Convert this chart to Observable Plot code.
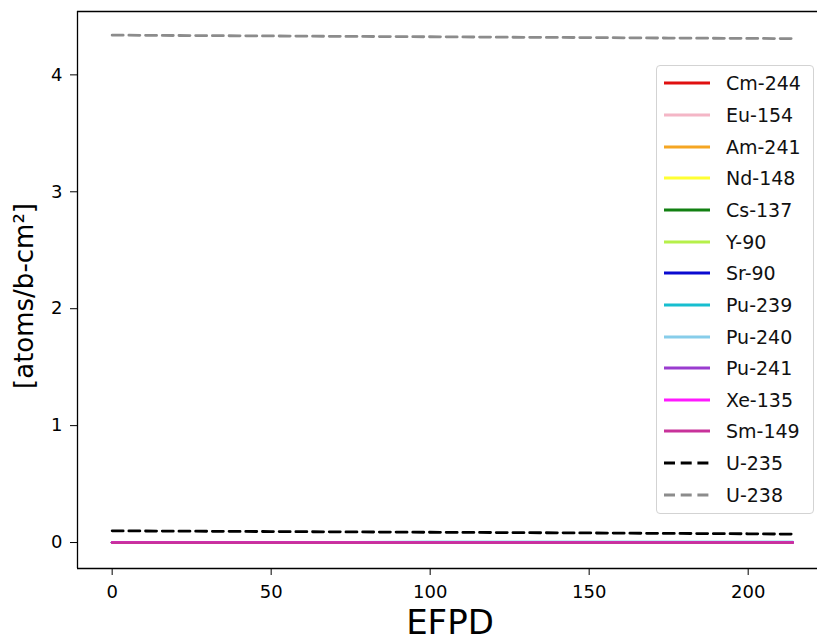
<!DOCTYPE html>
<html><head><meta charset="utf-8">
<script src="https://cdn.jsdelivr.net/npm/d3@7"></script>
<script src="https://cdn.jsdelivr.net/npm/@observablehq/plot@0.6"></script>
<style>
body{margin:0;background:#fff;}
#chart{position:relative;width:817px;height:644px;font-family:"DejaVu Sans",sans-serif;overflow:hidden;}
#legend{position:absolute;left:656px;top:65px;width:158px;height:449px;box-sizing:border-box;border:1px solid #d3d3d3;border-radius:4px;background:rgba(255,255,255,0.85);}
.row{position:absolute;left:0;height:30px;width:100%;}
.row svg{position:absolute;left:6px;top:0;}
.row span{position:absolute;left:69px;top:50%;transform:translateY(-50%);font-size:19px;color:#111;white-space:nowrap;line-height:1;}
</style></head><body><div id="chart"></div>
<script>
// EFPD sample points (days)
const efpd = [0, 25, 50, 75, 100, 125, 150, 175, 200, 214];
const xTicks = [0, 50, 100, 150, 200];
const yTicks = [0, 1, 2, 3, 4];

const isotopes = ["Cm-244","Eu-154","Am-241","Nd-148","Cs-137","Y-90","Sr-90","Pu-239","Pu-240","Pu-241","Xe-135","Sm-149","U-235","U-238"];
const colors = ["#e01010","#f4b6c6","#f5a623","#ffff33","#128012","#b6f04a","#0a0ad0","#17becf","#87cdea","#9a3ccf","#ff1aff","#c8329a","#000000","#8c8c8c"];
const dashed = [false,false,false,false,false,false,false,false,false,false,false,false,true,true];

// values in atoms/b-cm^2 (fission products & actinides stay near 0)
const cm244 = [0, 0, 0, 0.00001, 0.00001, 0.00001, 0.00002, 0.00002, 0.00003, 0.00003];
const eu154 = [0, 0.00001, 0.00002, 0.00003, 0.00004, 0.00005, 0.00006, 0.00007, 0.00008, 0.00009];
const am241 = [0, 0, 0.00001, 0.00001, 0.00002, 0.00002, 0.00003, 0.00003, 0.00004, 0.00004];
const nd148 = [0, 0.00005, 0.0001, 0.00015, 0.0002, 0.00025, 0.0003, 0.00035, 0.0004, 0.00043];
const cs137 = [0, 0.0002, 0.0004, 0.0006, 0.0008, 0.001, 0.0012, 0.0014, 0.0016, 0.0017];
const y90   = [0, 0.00001, 0.00001, 0.00001, 0.00001, 0.00001, 0.00001, 0.00001, 0.00001, 0.00001];
const sr90  = [0, 0.0002, 0.0004, 0.0006, 0.0008, 0.001, 0.0012, 0.0014, 0.0016, 0.0017];
const pu239 = [0, 0.0008, 0.0015, 0.0021, 0.0026, 0.003, 0.0034, 0.0037, 0.004, 0.0041];
const pu240 = [0, 0.00005, 0.00015, 0.0003, 0.00045, 0.0006, 0.00075, 0.0009, 0.001, 0.0011];
const pu241 = [0, 0.00001, 0.00003, 0.00006, 0.0001, 0.00014, 0.00018, 0.00022, 0.00026, 0.00028];
const xe135 = [0, 0.00001, 0.00001, 0.00001, 0.00001, 0.00001, 0.00001, 0.00001, 0.00001, 0.00001];
const sm149 = [0, 0.00002, 0.00003, 0.00003, 0.00003, 0.00003, 0.00003, 0.00003, 0.00003, 0.00003];
const u235  = [0.100, 0.097, 0.094, 0.091, 0.088, 0.085, 0.082, 0.078, 0.075, 0.072];
const u238  = [4.340, 4.336, 4.333, 4.329, 4.326, 4.322, 4.319, 4.315, 4.312, 4.310];

const series = [cm244, eu154, am241, nd148, cs137, y90, sr90, pu239, pu240, pu241, xe135, sm149, u235, u238];

const xDomain = [-10.9, 221.8];
const yDomain = [-0.222, 4.542];

const lineMarks = series.map((vals, i) =>
  Plot.line(efpd.map((d, j) => ({x: d, y: vals[j]})), {
    x: "x", y: "y", stroke: colors[i], strokeWidth: 2.8,
    strokeDasharray: dashed[i] ? "11,5.7" : null
  })
);

const plot = Plot.plot({
  width: 817, height: 644,
  marginLeft: 77, marginRight: 0, marginTop: 11, marginBottom: 76,
  x: {domain: xDomain, label: null},
  y: {domain: yDomain, label: null},
  style: {fontFamily: "DejaVu Sans", fontSize: "18px", color: "#000", background: "white", overflow: "visible"},
  marks: [
    Plot.axisX({ticks: xTicks, tickFormat: d3.format("d"), tickSize: 7, tickPadding: 10, label: null, fontSize: 18}),
    Plot.axisY({ticks: yTicks, tickFormat: d3.format("d"), tickSize: 7, tickPadding: 8, label: null, fontSize: 18}),
    ...lineMarks,
    Plot.ruleX([xDomain[0]], {stroke: "#000", strokeWidth: 1.3}),
    Plot.ruleY([yDomain[0], yDomain[1]], {stroke: "#000", strokeWidth: 1.3})
  ]
});

const chart = document.getElementById("chart");
chart.appendChild(plot);

const svg = d3.select(plot);
svg.append("text")
  .attr("transform", "translate(33,296) rotate(-90)")
  .attr("text-anchor", "middle")
  .attr("font-family", "DejaVu Sans")
  .attr("font-size", 26)
  .attr("fill", "#000")
  .text("[atoms/b-cm²]");
svg.append("text")
  .attr("x", 450).attr("y", 634)
  .attr("text-anchor", "middle")
  .attr("font-family", "DejaVu Sans")
  .attr("font-size", 34)
  .attr("fill", "#000")
  .text("EFPD");

// legend
const legend = document.createElement("div");
legend.id = "legend";
isotopes.forEach((name, i) => {
  const row = document.createElement("div");
  row.className = "row";
  row.style.top = (2.3 + i * 31.65) + "px";
  const dash = dashed[i] ? 'stroke-dasharray="11,5.7"' : "";
  row.innerHTML = `<svg width="48" height="30"><line x1="1" x2="47" y1="15" y2="15" stroke="${colors[i]}" stroke-width="2.8" ${dash}/></svg><span>${name}</span>`;
  legend.appendChild(row);
});
chart.appendChild(legend);
</script>
</body></html>
